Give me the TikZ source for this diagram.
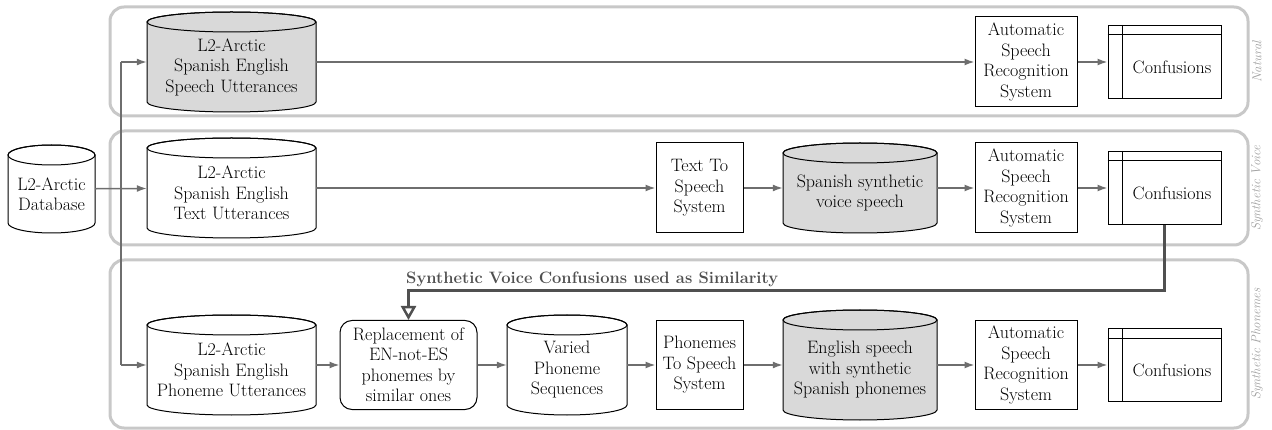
\documentclass[tikz,border=0pt]{standalone}
\usepackage{fontspec}
\usetikzlibrary{arrows.meta}
\definecolor{lanec}{HTML}{C8C8C8}
\definecolor{arrc}{HTML}{6E6E6E}
\definecolor{cylfill}{HTML}{D9D9D9}
\definecolor{fbcol}{HTML}{505050}
\definecolor{labc}{HTML}{A0A0A0}
\tikzset{
  boxline/.style={draw=black, line width=1pt},
  txt/.style={align=center, inner sep=0pt, font=\fontsize{18}{20.5}\selectfont},
  procbox/.style={boxline, txt, fill=white},
  lane/.style={draw=lanec, line width=3pt, rounded corners=14pt},
  lanelab/.style={text=labc, font=\fontsize{13}{15}\selectfont\itshape, rotate=90, inner sep=0pt},
  arr/.style={draw=arrc, line width=1.5pt, -{Latex[length=10pt,width=7pt]}},
  plainline/.style={draw=arrc, line width=1.5pt},
  fb/.style={draw=fbcol, line width=3pt, -{Triangle[open, length=14pt, width=15pt, line width=2.5pt]}},
  fblab/.style={text=fbcol, font=\bfseries\fontsize{16.5}{18}\selectfont, inner sep=0pt},
}
% name, x1, y1(top), x2, y2(bottom), fill, text
\newcommand{\mycyl}[7]{%
  \pgfmathsetmacro\cxa{(#2+#4)/2}%
  \pgfmathsetmacro\rxa{(#4-#2)/2}%
  \pgfmathsetmacro\cya{(#3+#5)/2}%
  \pgfmathsetmacro\wa{#4-#2}%
  \pgfmathsetmacro\ha{#5-#3}%
  \draw[boxline, fill=#6] (#2,#3+10) -- (#2,#5-10)
     arc[start angle=180, end angle=360, x radius=\rxa pt, y radius=10pt]
     -- (#4,#3+10)
     arc[start angle=0, end angle=180, x radius=\rxa pt, y radius=10pt] -- cycle;
  \draw[boxline] (\cxa,#3+10) ellipse[x radius=\rxa pt, y radius=10pt];
  \node[inner sep=0pt, minimum width=\wa pt, minimum height=\ha pt] (#1) at (\cxa,\cya) {};
  \node[txt] (#1-t) at (\cxa,\cya+5) {#7};
}
% name, cx, cy, w, h
\newcommand{\confbox}[5]{%
  \node[boxline, fill=white, inner sep=0pt, minimum width=#4pt, minimum height=#5pt] (#1) at (#2,#3) {};
  \draw[boxline] ([yshift=-10pt]#1.north west) -- ([yshift=-10pt]#1.north east);
  \draw[boxline] ([xshift=15pt]#1.north west) -- ([xshift=15pt]#1.south west);
  \node[txt] (#1-t) at (#2+7.5,#3+5) {Confusions};
}
\begin{document}
\begin{tikzpicture}[x=1pt, y=-1pt]
\useasboundingbox (0,0) rectangle (1272,430);
% lanes
\draw[lane] (110,7) rectangle (1248,116);
\draw[lane] (110,131) rectangle (1248,245);
\draw[lane] (110,260) rectangle (1248,428);
\node[lanelab] (labN) at (1257,62) {Natural};
\node[lanelab] (labV) at (1257,188) {Synthetic Voice};
\node[lanelab] (labP) at (1257,344) {Synthetic Phonemes};
% row 1
\mycyl{cylA}{147}{12}{316}{112}{cylfill}{L2-Arctic\\Spanish English\\Speech Utterances}
\node[procbox, minimum width=102pt, minimum height=90pt] (asrA) at (1026,62) {Automatic\\Speech\\Recognition\\System};
\confbox{confA}{1164.5}{62}{113}{73}
% row 2
\mycyl{db}{8}{145}{95}{233}{white}{L2-Arctic\\Database}
\mycyl{cylB}{147}{138}{316}{238}{white}{L2-Arctic\\Spanish English\\Text Utterances}
\node[procbox, minimum width=87pt, minimum height=90pt] (tts) at (699.5,188) {Text To\\Speech\\System};
\mycyl{spv}{783}{143}{937}{233}{cylfill}{Spanish synthetic\\voice speech}
\node[procbox, minimum width=102pt, minimum height=90pt] (asrB) at (1026,188) {Automatic\\Speech\\Recognition\\System};
\confbox{confB}{1164.5}{188}{113}{73}
% row 3
\mycyl{cylC}{147}{315}{316}{415}{white}{L2-Arctic\\Spanish English\\Phoneme Utterances}
\node[procbox, rounded corners=12pt, minimum width=137pt, minimum height=89pt] (rep) at (408.5,365) {Replacement of\\EN-not-ES\\phonemes by\\similar ones};
\mycyl{var}{507}{315}{627}{415}{white}{Varied\\Phoneme\\Sequences}
\node[procbox, minimum width=87pt, minimum height=89pt] (pts) at (699.5,365) {Phonemes\\To Speech\\System};
\mycyl{eng}{783}{310}{937}{420}{cylfill}{English speech\\with synthetic\\Spanish phonemes}
\node[procbox, minimum width=102pt, minimum height=89pt] (asrC) at (1026,365) {Automatic\\Speech\\Recognition\\System};
\confbox{confC}{1164.5}{365}{113}{72}
% connectors
\coordinate (sp1) at (121,62);
\coordinate (sp3) at (121,365);
\draw[plainline] (sp1) -- (sp3);
\draw[arr] (sp1) -- (cylA);
\draw[arr] (sp3) -- (cylC);
\draw[arr] (cylA) -- (asrA);
\draw[arr] (asrA) -- (confA);
\draw[arr] (db) -- (cylB);
\draw[arr] (cylB) -- (tts);
\draw[arr] (tts) -- (spv);
\draw[arr] (spv) -- (asrB);
\draw[arr] (asrB) -- (confB);
\draw[arr] (cylC) -- (rep);
\draw[arr] (rep) -- (var);
\draw[arr] (var) -- (pts);
\draw[arr] (pts) -- (eng);
\draw[arr] (eng) -- (asrC);
\draw[arr] (asrC) -- (confC);
% feedback
\coordinate (fbturn) at (1164.5,291);
\coordinate (fbleft) at (408.5,291);
\draw[fb] (confB.south) -- (fbturn) -- (fbleft) -- (rep.north);
\node[fblab, anchor=base west] (fbl) at (406,284) {Synthetic Voice Confusions used as Similarity};
\end{tikzpicture}
\end{document}
